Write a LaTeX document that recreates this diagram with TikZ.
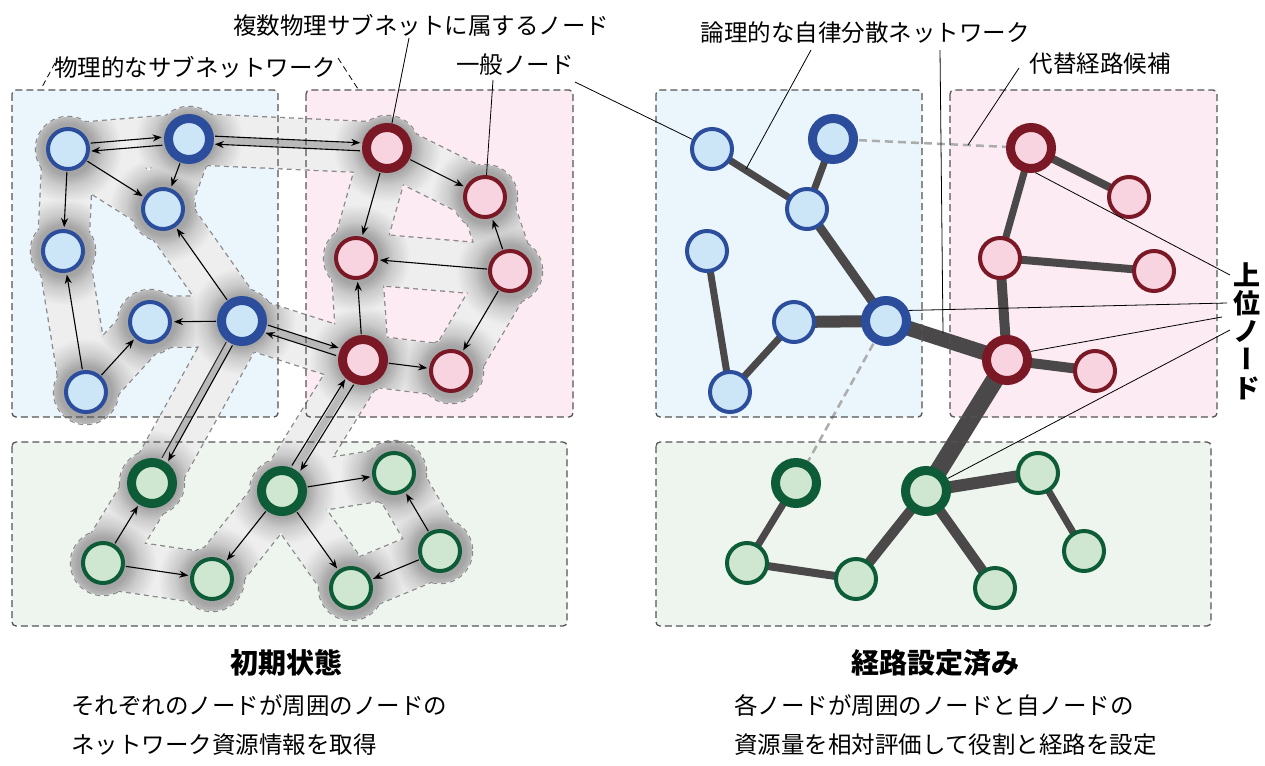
\documentclass[tikz,border=0pt]{standalone}
\usepackage{fontspec}
\newfontfamily\jp{Noto Sans CJK JP}
\newfontfamily\jpv[RawFeature=+vert]{Noto Sans CJK JP}
\usetikzlibrary{calc,arrows.meta}

\definecolor{bluebd}{HTML}{2B4D9C}
\definecolor{bluefl}{HTML}{CDE6F7}
\definecolor{pinkbd}{HTML}{7A1825}
\definecolor{pinkfl}{HTML}{F8D4E1}
\definecolor{greenbd}{HTML}{0D5C37}
\definecolor{greenfl}{HTML}{CFE7D0}
\definecolor{boxblue}{HTML}{EAF5FC}
\definecolor{boxpink}{HTML}{FCEBF2}
\definecolor{boxgreen}{HTML}{EEF5EE}
\definecolor{boxdash}{HTML}{555555}
\definecolor{edgec}{HTML}{4A4848}
\definecolor{bandc}{HTML}{EEEEEE}
\definecolor{glowdark}{HTML}{9A9A9A}
\definecolor{glowmid}{HTML}{A6A6A6}
\definecolor{glowlite}{HTML}{CACACA}
\definecolor{outlc}{HTML}{8A8A8A}

% in TikZ the central 25bp radius of a radial shading maps onto the path's half size
\pgfdeclareradialshading{glow}{\pgfpointorigin}{color(0bp)=(glowdark);color(12bp)=(glowmid);color(17bp)=(glowlite);color(25bp)=(bandc);color(50bp)=(bandc)}

\pgfdeclarelayer{back}\pgfdeclarelayer{mid}\pgfdeclarelayer{frame}
\pgfsetlayers{back,mid,frame,main}

\tikzset{
  nd/.style={circle, inner sep=0pt},
  nb/.style={nd, draw=bluebd, fill=bluefl, line width=4pt, minimum size=40pt},
  tb/.style={nd, draw=bluebd, fill=bluefl, line width=9pt, minimum size=41pt},
  np/.style={nd, draw=pinkbd, fill=pinkfl, line width=4pt, minimum size=40pt},
  tp/.style={nd, draw=pinkbd, fill=pinkfl, line width=9pt, minimum size=41pt},
  ng/.style={nd, draw=greenbd, fill=greenfl, line width=4pt, minimum size=40pt},
  tg/.style={nd, draw=greenbd, fill=greenfl, line width=9pt, minimum size=41pt},
  arr/.style={-{Stealth[length=9pt,width=7pt]}, line width=1.1pt, draw=black},
  tubes/.style={line width=7pt, draw=gray!55},
  outl/.style={line width=52.6pt, draw=outlc, dash pattern=on 5pt off 4pt},
  halo/.style={draw=outlc, line width=1.3pt, dash pattern=on 5pt off 4pt},
  ringst/.style={draw=gray!60, line width=1pt, dash pattern=on 4pt off 3pt},
  boxst/.style={draw=boxdash, line width=1.3pt, dash pattern=on 7pt off 4pt, rounded corners=4pt},
  lnk/.style={draw=edgec},
  altst/.style={draw=gray!65, line width=2.5pt, dash pattern=on 8pt off 5pt},
  ann/.style={draw=black, line width=0.8pt},
  annd/.style={ann, dash pattern=on 6pt off 4pt},
  lbl/.style={font=\jp\fontsize{23.5}{28}\selectfont, inner sep=0pt},
  captxt/.style={font=\jp\bfseries\fontsize{28}{32}\selectfont, inner sep=0pt},
  desctxt/.style={font=\jp\fontsize{23.5}{28}\selectfont, inner sep=0pt, anchor=west},
  vlbl/.style={font=\jpv\bfseries\fontsize{27}{28.3}\selectfont, inner sep=0pt, align=center},
}

\newcommand\allnodes[2]{%
  \node[nb] (#1B1) at (68+#2,149) {};
  \node[tb] (#1B2) at (189+#2,139) {};
  \node[nb] (#1B3) at (163+#2,209) {};
  \node[nb] (#1B4) at (63+#2,251) {};
  \node[nb] (#1B5) at (150+#2,322) {};
  \node[tb] (#1B6) at (242+#2,321) {};
  \node[nb] (#1B7) at (86+#2,392) {};
  \node[tp] (#1P1) at (387+#2,148) {};
  \node[np] (#1P2) at (485+#2,197) {};
  \node[np] (#1P3) at (356+#2,258) {};
  \node[np] (#1P4) at (510+#2,271) {};
  \node[tp] (#1P5) at (363+#2,360) {};
  \node[np] (#1P6) at (451+#2,371) {};
  \node[tg] (#1G1) at (152+#2,483) {};
  \node[tg] (#1G2) at (282+#2,491) {};
  \node[ng] (#1G3) at (394+#2,473) {};
  \node[ng] (#1G4) at (103+#2,563) {};
  \node[ng] (#1G5) at (212+#2,579) {};
  \node[ng] (#1G6) at (351+#2,588) {};
  \node[ng] (#1G7) at (440+#2,551) {};
}

\newcommand\bandlist{B1/B2,B2/P1,B1/B4,B4/B7,B1/B3,B2/B3,B3/B6,B7/B5,B5/B6,B6/P5,B6/G1,P5/G2,P1/P3,P1/P2,P2/P4,P4/P3,P3/P5,P5/P6,P4/P6,G1/G4,G4/G5,G2/G5,G2/G3,G2/G6,G7/G3,G7/G6}
\newcommand\nodelist{B1,B2,B3,B4,B5,B6,B7,P1,P2,P3,P4,P5,P6,G1,G2,G3,G4,G5,G6,G7}

% two opposite arrows side by side: A, B, shorten at A, shorten at B, offset
\newcommand\twoarr[5]{%
  \draw[arr, shorten <=#3pt, shorten >=#4pt] ($(#1)!#5pt!90:(#2)$) -- ($(#2)!#5pt!-90:(#1)$);
  \draw[arr, shorten <=#4pt, shorten >=#3pt] ($(#2)!#5pt!90:(#1)$) -- ($(#1)!#5pt!-90:(#2)$);
}

\begin{document}
\begin{tikzpicture}[x=1pt,y=-1pt]
\useasboundingbox (0,0) rectangle (1265,765);

\allnodes{}{0}
\allnodes{R}{644}

% ---------- boxes ----------
\begin{pgfonlayer}{back}
  \fill[boxblue, rounded corners=4pt] (12,90) rectangle (278,417);
  \fill[boxpink, rounded corners=4pt] (306,90) rectangle (573,417);
  \fill[boxgreen, rounded corners=4pt] (12,442) rectangle (567,626);
  \fill[boxblue, rounded corners=4pt] (656,90) rectangle (922,417);
  \fill[boxpink, rounded corners=4pt] (950,90) rectangle (1217,417);
  \fill[boxgreen, rounded corners=4pt] (656,442) rectangle (1211,626);
\end{pgfonlayer}
\begin{pgfonlayer}{frame}
  \draw[boxst] (12,90) rectangle (278,417);
  \draw[boxst] (306,90) rectangle (573,417);
  \draw[boxst] (12,442) rectangle (567,626);
  \draw[boxst] (656,90) rectangle (922,417);
  \draw[boxst] (950,90) rectangle (1217,417);
  \draw[boxst] (656,442) rectangle (1211,626);
\end{pgfonlayer}

% ---------- left: shaded bands ----------
\begin{pgfonlayer}{mid}
  \foreach \a/\b in \bandlist {\draw[outl] (\a.center) -- (\b.center);}
  \foreach \n in \nodelist {\draw[halo] (\n.center) circle[radius=32.6];}
  \fill[bandc] foreach \a/\b in \bandlist {($(\a)!25pt!90:(\b)$) -- ($(\b)!25pt!-90:(\a)$) -- ($(\b)!25pt!90:(\a)$) -- ($(\a)!25pt!-90:(\b)$) -- cycle}
    foreach \n in \nodelist {(\n.center) circle[radius=32]};
  \begin{scope}
    \clip foreach \a/\b in \bandlist {($(\a)!25pt!90:(\b)$) -- ($(\b)!25pt!-90:(\a)$) -- ($(\b)!25pt!90:(\a)$) -- ($(\a)!25pt!-90:(\b)$) -- cycle}
      foreach \n in \nodelist {(\n.center) circle[radius=32]};
    \foreach \n in \nodelist {\shade[shading=glow, blend mode=darken] (\n.center) circle[radius=54];}
  \end{scope}
  \foreach \n in \nodelist {\draw[ringst] (\n.center) circle[radius=29];}
  % tubes of the long links
  \draw[tubes] (B2.center) -- (P1.center);
  \draw[tubes] (B6.center) -- (P5.center);
  \draw[tubes] (B6.center) -- (G1.center);
  \draw[tubes] (P5.center) -- (G2.center);

  % ---------- right: logical network ----------
  \draw[altst] (RB2.center) -- (RP1.center);
  \draw[altst] (RB6.center) -- (RG1.center);
  \draw[lnk, line width=7pt] (RB1.center) -- (RB3.center);
  \draw[lnk, line width=7pt] (RB2.center) -- (RB3.center);
  \draw[lnk, line width=9pt] (RB3.center) -- (RB6.center);
  \draw[lnk, line width=7pt] (RB4.center) -- (RB7.center);
  \draw[lnk, line width=7pt] (RB7.center) -- (RB5.center);
  \draw[lnk, line width=12pt] (RB5.center) -- (RB6.center);
  \draw[lnk, line width=15pt] (RB6.center) -- (RP5.center);
  \draw[lnk, line width=18pt] (RP5.center) -- (RG2.center);
  \draw[lnk, line width=8pt] (RP1.center) -- (RP2.center);
  \draw[lnk, line width=7pt] (RP1.center) -- (RP3.center);
  \draw[lnk, line width=8pt] (RP3.center) -- (RP4.center);
  \draw[lnk, line width=10pt] (RP3.center) -- (RP5.center);
  \draw[lnk, line width=10pt] (RP5.center) -- (RP6.center);
  \draw[lnk, line width=12pt] (RG2.center) -- (RG3.center);
  \draw[lnk, line width=10pt] (RG2.center) -- (RG5.center);
  \draw[lnk, line width=10pt] (RG2.center) -- (RG6.center);
  \draw[lnk, line width=7pt] (RG3.center) -- (RG7.center);
  \draw[lnk, line width=7pt] (RG1.center) -- (RG4.center);
  \draw[lnk, line width=8pt] (RG4.center) -- (RG5.center);
\end{pgfonlayer}

% ---------- left: arrows ----------
\twoarr{B1}{B2}{23}{27}{4}
\twoarr{B2}{P1}{26}{27}{4}
\twoarr{B6}{P5}{26}{27}{4}
\twoarr{P5}{G2}{26}{27}{5}
\draw[arr, shorten <=26pt, shorten >=27pt] ($(B6)!3.5pt!90:(G1)$) -- ($(G1)!3.5pt!-90:(B6)$);
\draw[line width=1pt, draw=gray!30!black, shorten <=26pt, shorten >=27pt] ($(B6)!3.5pt!-90:(G1)$) -- ($(G1)!3.5pt!90:(B6)$);
\foreach \a/\b in {B2/B3,B1/B3,B1/B4,B7/B4,B7/B5,B6/B5,B6/B3,P1/P2,P1/P3,P4/P2,P4/P3,P4/P6,P5/P3,P5/P6,G4/G1,G4/G5,G2/G5,G2/G3,G2/G6,G7/G3,G7/G6}
  {\draw[arr, shorten >=2pt, shorten <=1pt] (\a) -- (\b);}

% ---------- labels ----------
\node[lbl] (lblPhys) at (195,67) {物理的なサブネットワーク};
\node[lbl] (lblMulti) at (421,25) {複数物理サブネットに属するノード};
\node[lbl] (lblGen) at (515,65) {一般ノード};
\node[lbl] (lblLogic) at (865,33) {論理的な自律分散ネットワーク};
\node[lbl] (lblAlt) at (1100,64) {代替経路候補};
\node[vlbl] (lblUpper) at (1247,331) {上\\位\\ノ\\ー\\ド};

\coordinate (ph1) at (55,63);  \coordinate (ph2) at (41,89);
\coordinate (ph3) at (338,58); \coordinate (ph4) at (358,89);
\draw[annd] (ph1) -- (ph2);
\draw[annd] (ph3) -- (ph4);
\coordinate (mu1) at (409,38);
\draw[ann] (mu1) -- (P1);
\coordinate (ge1) at (493,80);
\coordinate (ge2) at (575,82);
\draw[ann] (ge1) -- (P2);
\draw[ann] (ge2) -- (RB1);
\coordinate (lo1) at (811,50);  \coordinate (lo2) at (746,169);
\coordinate (lo3) at (940,50);  \coordinate (lo4) at (943,333);
\draw[ann] (lo1) -- (lo2);
\draw[ann] (lo3) -- (lo4);
\coordinate (al1) at (1019,68); \coordinate (al2) at (968,145);
\draw[ann] (al1) -- (al2);
\coordinate (up1) at (1230,275);
\coordinate (up2) at (1227,303);
\coordinate (up3) at (1222,317);
\coordinate (up4) at (1230,330);
\draw[ann] (up1) -- (RP1.-80);
\draw[ann] (up2) -- (RB6.25);
\draw[ann] (up3) -- (RP5.20);
\draw[ann] (up4) -- (RG2.30);

% ---------- captions ----------
\node[captxt] (capL) at (286,663) {初期状態};
\node[captxt] (capR) at (935,663) {経路設定済み};
\node[desctxt] (dL1) at (71,706) {それぞれのノードが周囲のノードの};
\node[desctxt] (dL2) at (71,745) {ネットワーク資源情報を取得};
\node[desctxt] (dR1) at (734,706) {各ノードが周囲のノードと自ノードの};
\node[desctxt] (dR2) at (734,745) {資源量を相対評価して役割と経路を設定};
\end{tikzpicture}
\end{document}
